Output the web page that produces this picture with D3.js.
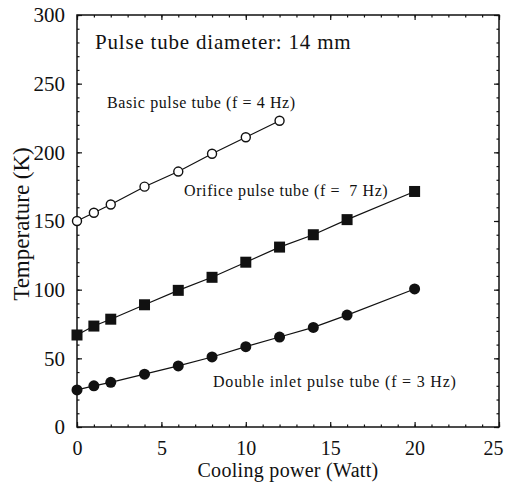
<!DOCTYPE html>
<html>
<head>
<meta charset="utf-8">
<script src="https://cdn.jsdelivr.net/npm/d3@7"></script>
<style>
  body { margin: 0; background: #fff; }
  text { font-family: "Liberation Serif", "DejaVu Serif", serif; fill: #111; }
</style>
</head>
<body>
<svg id="chart" width="505" height="490"></svg>
<script>
// cooling power (W) for each series
var basicX    = [0, 1, 2, 4, 6, 8, 10, 12];
var basicY    = [150, 156, 162, 175, 186, 199, 211, 223];
var orificeX  = [0, 1, 2, 4, 6, 8, 10, 12, 14, 16, 20];
var orificeY  = [67, 73.5, 78.5, 89, 99.5, 109, 120, 131, 140, 151, 171.5];
var doubleX   = [0, 1, 2, 4, 6, 8, 10, 12, 14, 16, 20];
var doubleY   = [27, 30, 32.5, 38.5, 44.5, 51, 58.5, 65.5, 72.5, 81.5, 100.5];

var xTicks = [0, 5, 10, 15, 20, 25];
var yTicks = [0, 50, 100, 150, 200, 250, 300];

var svg = d3.select("#chart");
var margin = {left: 77, right: 6, top: 15, bottom: 63};
var w = 505 - margin.left - margin.right,
    h = 490 - margin.top - margin.bottom;

var x = d3.scaleLinear().domain([0, 25]).range([0, w]);
var y = d3.scaleLinear().domain([0, 300]).range([h, 0]);

var g = svg.append("g").attr("transform", "translate(" + margin.left + "," + margin.top + ")");

// inward ticks on all four sides, major + minor
function addAxis(axis, tf) {
  var a = g.append("g").attr("transform", tf).call(axis);
  a.select(".domain").remove();
  a.selectAll("line").attr("stroke", "#111").attr("stroke-width", 1.2);
  return a;
}
var xMinor = d3.range(0, 26, 1), yMinor = d3.range(0, 301, 10);
addAxis(d3.axisBottom(x).tickValues(xMinor).tickSize(-2.5).tickFormat(""), "translate(0," + h + ")");
addAxis(d3.axisTop(x).tickValues(xMinor).tickSize(-2.5).tickFormat(""), "translate(0,0)");
addAxis(d3.axisLeft(y).tickValues(yMinor).tickSize(-2.5).tickFormat(""), "translate(0,0)");
addAxis(d3.axisRight(y).tickValues(yMinor).tickSize(-2.5).tickFormat(""), "translate(" + w + ",0)");

var xb = addAxis(d3.axisBottom(x).tickValues(xTicks).tickSize(-5).tickPadding(14), "translate(0," + h + ")");
xb.selectAll("text").style("font-size", "20px").attr("font-family", null)
  .attr("dx", d => d === 25 ? -6 : 0);
addAxis(d3.axisTop(x).tickValues(xTicks).tickSize(-5).tickFormat(""), "translate(0,0)");
var yl = addAxis(d3.axisLeft(y).tickValues(yTicks).tickSize(-5).tickPadding(12), "translate(0,0)");
yl.selectAll("text").style("font-size", "21px").attr("font-family", null);
addAxis(d3.axisRight(y).tickValues(yTicks).tickSize(-5).tickFormat(""), "translate(" + w + ",0)");

// frame
g.append("rect").attr("width", w).attr("height", h)
  .attr("fill", "none").attr("stroke", "#111").attr("stroke-width", 1.5);

var line = d3.line().x(d => x(d[0])).y(d => y(d[1]));
function series(xs, ys) { return xs.map((v, i) => [v, ys[i]]); }

var basic = series(basicX, basicY),
    orifice = series(orificeX, orificeY),
    dbl = series(doubleX, doubleY);

[basic, orifice, dbl].forEach(function(s) {
  g.append("path").datum(s).attr("d", line)
    .attr("fill", "none").attr("stroke", "#111").attr("stroke-width", 1.2);
});

g.selectAll(".open").data(basic).enter().append("circle")
  .attr("cx", d => x(d[0])).attr("cy", d => y(d[1])).attr("r", 4.5)
  .attr("fill", "#fff").attr("stroke", "#111").attr("stroke-width", 1.4);

g.selectAll(".sq").data(orifice).enter().append("rect")
  .attr("x", d => x(d[0]) - 5.5).attr("y", d => y(d[1]) - 5.5)
  .attr("width", 11).attr("height", 11).attr("fill", "#111");

g.selectAll(".dot").data(dbl).enter().append("circle")
  .attr("cx", d => x(d[0])).attr("cy", d => y(d[1])).attr("r", 5.5)
  .attr("fill", "#111");

// annotations
svg.append("text").attr("x", 95).attr("y", 49).style("font-size", "21px")
  .style("letter-spacing", "0.8px")
  .text("Pulse tube diameter: 14 mm");
svg.append("text").attr("x", 107).attr("y", 108).style("font-size", "16px")
  .style("letter-spacing", "0.6px")
  .text("Basic pulse tube (f = 4 Hz)");
svg.append("text").attr("x", 184).attr("y", 196).style("font-size", "16px")
  .style("letter-spacing", "0.6px")
  .attr("xml:space", "preserve").text("Orifice pulse tube (f =  7 Hz)");
svg.append("text").attr("x", 213).attr("y", 387).style("font-size", "16px")
  .style("letter-spacing", "0.8px")
  .text("Double inlet pulse tube (f = 3 Hz)");

// axis titles
svg.append("text").attr("x", margin.left + w / 2).attr("y", 477)
  .attr("text-anchor", "middle").style("font-size", "20px")
  .style("letter-spacing", "0.3px")
  .text("Cooling power (Watt)");
svg.append("text").attr("transform", "translate(29," + (margin.top + h / 2 + 3) + ") rotate(-90)")
  .attr("text-anchor", "middle").style("font-size", "23px")
  .text("Temperature (K)");
</script>
</body>
</html>
